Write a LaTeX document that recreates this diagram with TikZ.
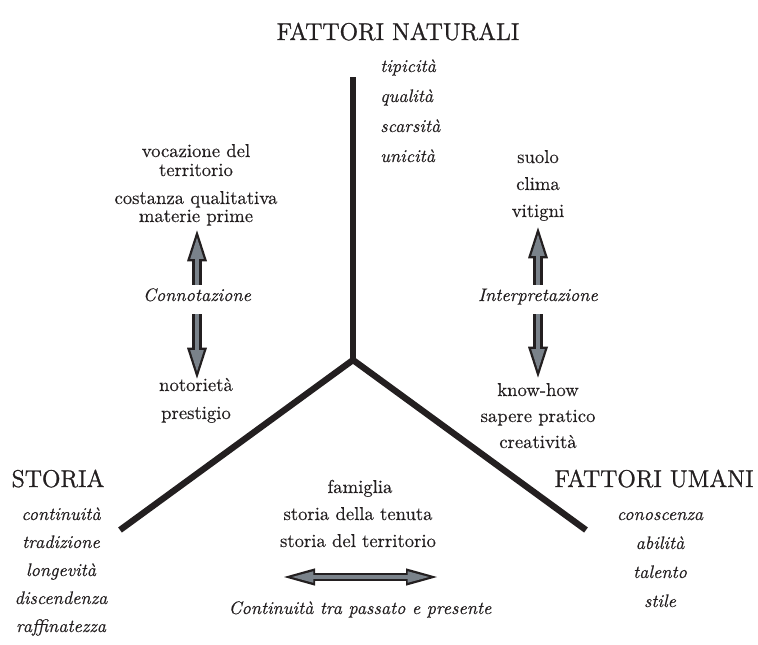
\documentclass[tikz,border=0pt]{standalone}
\usepackage{fontspec}
\setmainfont{lmroman10-regular.otf}[
  ItalicFont=lmroman10-italic.otf,
  FakeBold=0.35]
\newfontfamily\headfont{lmroman12-regular.otf}[FakeBold=1.1]
\usepackage{tikz}
\usetikzlibrary{arrows.meta}

\definecolor{ink}{RGB}{35,31,32}
\definecolor{steel}{RGB}{122,130,138}

\tikzset{
  heading/.style={font=\headfont\fontsize{18.2}{21}\selectfont, text=ink, anchor=base, inner sep=0pt},
  term/.style={font=\fontsize{14}{17}\selectfont, text=ink, anchor=base, inner sep=0pt,
    text height=9pt, text depth=3pt},
  quality/.style={font=\fontsize{13.6}{16}\selectfont\itshape, text=ink, anchor=base, inner sep=0pt,
    text height=9pt, text depth=3pt},
  arm/.style={draw=ink, line width=4.75pt},
  flow/.style={draw=ink, line width=7pt, -{Triangle[width=15pt,length=23.25pt,line width=0pt]},
    postaction={draw=steel, line width=3.4pt, shorten >=5.5pt,
      -{Triangle[width=10.2pt,length=16pt,line width=0pt]}}},
  flowboth/.style={draw=ink, line width=6pt,
    {Triangle[width=13pt,length=23.25pt,line width=0pt]}-{Triangle[width=13pt,length=23.25pt,line width=0pt]},
    postaction={draw=steel, line width=2.8pt, shorten >=6pt, shorten <=6pt,
      {Triangle[width=8.6pt,length=16pt,line width=0pt]}-{Triangle[width=8.6pt,length=16pt,line width=0pt]}}},
}

\begin{document}
\begin{tikzpicture}[x=0.75pt,y=-0.75pt]
    \useasboundingbox (0,0) rectangle (758,644);

    % the three arms
    \coordinate (top) at (353,77);
    \coordinate (hub) at (353,360);
    \coordinate (leftend) at (120,530);
    \coordinate (rightend) at (586,530);
    \draw[arm] (top) -- (hub);
    \draw[arm] (leftend) -- (hub) -- (rightend);

    % headings
    \node[heading] at (398,40) (natural) {FATTORI NATURALI};
    \node[heading] at (58,487) (history) {STORIA};
    \node[heading] at (654,487) (human) {FATTORI UMANI};

    \foreach \word [count=\i] in {tipicità, qualità, scarsità, unicità}
        \node[quality, anchor=base west] at (380,42+30*\i) (nat\i) {\word};
    \foreach \word [count=\i] in {continuità, tradizione, longevità, discendenza, raffinatezza}
        \node[quality] at (61,492+28*\i) (hist\i) {\word};
    \foreach \word [count=\i] in {conoscenza, abilità, talento, stile}
        \node[quality] at (660,491+29*\i) (hum\i) {\word};

    % left column
    \node[term] at (196,157) (voc) {vocazione del};
    \node[term] at (196,176) (terr) {territorio};
    \node[term] at (196,204) (cost) {costanza qualitativa};
    \node[term] at (196,222) (mat) {materie prime};
    \node[quality] at (197,301) (conn) {Connotazione};
    \node[term] at (196,391) (noto) {notorietà};
    \node[term] at (196,419) (prest) {prestigio};

    % right column
    \node[term] at (538,163) (soil) {suolo};
    \node[term] at (538,190) (climate) {clima};
    \node[term] at (538,217) (vines) {vitigni};
    \node[quality] at (538,301) (interp) {Interpretazione};
    \node[term] at (538,396) (know) {know-how};
    \node[term] at (538,422) (prac) {sapere pratico};
    \node[term] at (538,448) (crea) {creatività};

    % bottom
    \node[term] at (360,493) (family) {famiglia};
    \node[term] at (358,520) (estate) {storia della tenuta};
    \node[term] at (358,547) (region) {storia del territorio};
    \node[quality] at (360,614) (continuity) {Continuità tra passato e presente};

    \coordinate (past) at (284,577);
    \coordinate (present) at (437,577);

    \draw[flow] ([yshift=3pt]conn.north) -- ([yshift=-3pt]conn.north |- mat.south);
    \draw[flow] ([yshift=-6.75pt]conn.south) -- (conn.south |- noto.north);
    \draw[flow] ([yshift=3pt]interp.north) -- ([yshift=-4.5pt]interp.north |- vines.south);
    \draw[flow] ([yshift=-6.75pt]interp.south) -- ([yshift=4.5pt]interp.south |- know.north);
    \draw[flowboth] (past) -- (present);
\end{tikzpicture}
\end{document}
